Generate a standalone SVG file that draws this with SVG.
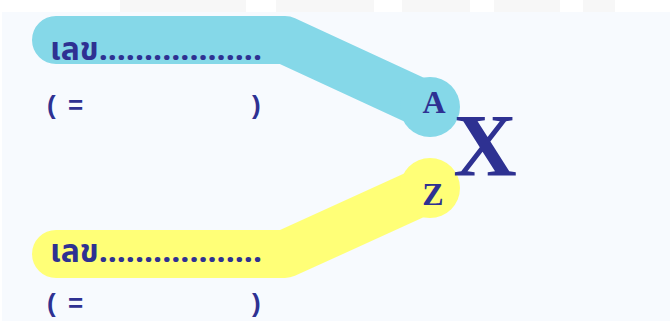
<svg xmlns="http://www.w3.org/2000/svg" width="670" height="321" viewBox="0 0 670 321">
<style>
.th{font-family:"Noto Sans Thai","Noto Sans","DejaVu Sans",sans-serif;font-weight:bold;font-size:31px;fill:#2E3192}
.par{font-family:"Liberation Sans",Arial,sans-serif;font-weight:bold;font-size:26px;fill:#2E3192}
.let{font-family:"Liberation Serif","Times New Roman",serif;font-weight:bold;fill:#2E3192;text-anchor:middle}
.band{fill:none;stroke-width:48;stroke-linejoin:round;stroke-linecap:round}
</style>
<rect width="670" height="321" fill="#FFFFFF"/>
<g fill="#F7F7F7">
<rect x="120" y="0" width="126" height="12"/>
<rect x="276" y="0" width="98" height="12"/>
<rect x="402" y="0" width="68" height="12"/>
<rect x="494" y="0" width="66" height="12"/>
<rect x="583" y="0" width="32" height="12"/>
</g>
<rect x="2" y="12" width="668" height="309" fill="#F7FAFE"/>
<g id="connectors">
<path class="band" d="M56,40 H285 L430,107" stroke="#85D8E8"/>
<path class="band" d="M56,254 H285 L430,188" stroke="#FFFF77"/>
</g>
<g id="nodeA">
<circle cx="430" cy="107" r="30" fill="#85D8E8"/>
<text class="let" x="434" y="113" font-size="32">A</text>
</g>
<g id="nodeZ">
<circle cx="430" cy="188" r="30" fill="#FFFF77"/>
<text class="let" x="433" y="205" font-size="32">Z</text>
</g>
<g id="nodeX">
<text class="let" x="485" y="175" font-size="88">X</text>
</g>
<g id="label-top">
<text class="th" x="50" y="60" textLength="212" lengthAdjust="spacingAndGlyphs">เลข..................</text>
<text class="par" x="47" y="114">(</text>
<text class="par" x="68" y="114">=</text>
<text class="par" x="252" y="114">)</text>
</g>
<g id="label-bottom">
<text class="th" x="50" y="262" textLength="212" lengthAdjust="spacingAndGlyphs">เลข..................</text>
<text class="par" x="47" y="312">(</text>
<text class="par" x="68" y="312">=</text>
<text class="par" x="252" y="312">)</text>
</g>
</svg>
